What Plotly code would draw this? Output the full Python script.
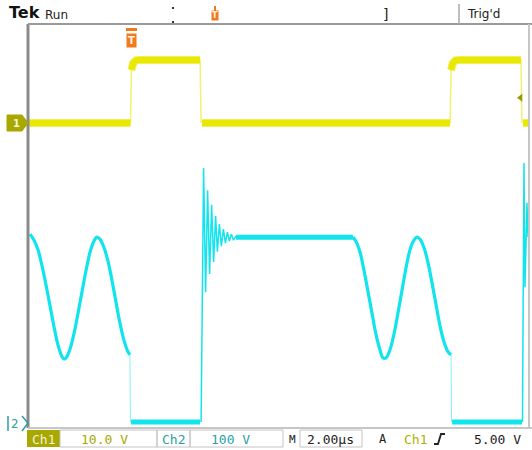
import plotly.graph_objects as go

# ---------------- data (read from the screen) ----------------
# time base 2.00 us/div, 10 div on screen
time_range_us = [0.0, 20.0]
ch1_scale_v = 10.0      # V/div
ch2_scale_v = 100.0     # V/div
trig_level_v = 5.00
trig_time_us = 4.09

# Ch1 (yellow) flat parts, None separates segments
ch1_level_t = [0.0, 4.09, None, 4.13, 4.19, 4.31, 4.47, 6.87, None,
               6.95, 16.85, None, 16.89, 16.95, 17.07, 17.23, 19.68, None,
               19.76, 20.0]
ch1_level_v = [0.0, 0.0, None, 10.5, 11.8, 12.4, 12.5, 12.5, None,
               0.0, 0.0, None, 10.5, 11.8, 12.4, 12.5, 12.5, None,
               0.0, 0.0]
# Ch1 switching edges
ch1_edge_t = [4.09, 4.13, None, 6.87, 6.91, None, 16.85, 16.89, None, 19.68, 19.72]
ch1_edge_v = [0.0, 10.5, None, 12.5, 0.0, None, 0.0, 10.5, None, 12.5, 0.0]

# Ch2 (cyan) resonant parts
ch2_sine_t = [0.08, 0.24, 0.40, 0.56, 0.72, 0.88, 1.04, 1.20, 1.36, 1.44, 1.52,
              1.68, 1.84, 2.00, 2.16, 2.32, 2.48, 2.63, 2.75, 2.87, 3.03, 3.19,
              3.35, 3.51, 3.67, 3.83, 3.99, 4.07, None,
              12.97, 13.09, 13.25, 13.41, 13.57, 13.73, 13.89, 14.05, 14.17,
              14.29, 14.45, 14.61, 14.77, 14.93, 15.09, 15.25, 15.41, 15.53,
              15.65, 15.81, 15.97, 16.13, 16.29, 16.45, 16.61, 16.77, 16.89]
ch2_sine_v = [374, 362, 343, 311, 273, 232, 190, 154, 131, 127, 129,
              147, 178, 218, 261, 303, 339, 360, 368, 364, 348, 321,
              283, 240, 198, 164, 141, 135, None,
              368, 360, 339, 303, 261, 218, 176, 145, 129,
              129, 145, 176, 218, 263, 307, 343, 362, 368,
              364, 347, 317, 277, 234, 192, 160, 141, 135]
# Ch2 flat parts
ch2_level_t = [4.11, 6.87, None, 8.30, 12.97, None, 16.93, 19.72]
ch2_level_v = [2, 2, None, 368, 368, None, 2, 2]
# Ch2 edges with ringing
ch2_ring_t = [6.91, 7.01, 7.09, 7.17, 7.25, 7.33, 7.41, 7.49, 7.56, 7.64, 7.72,
              7.80, 7.88, 7.96, 8.04, 8.12, 8.20, 8.30, None,
              19.74, 19.80, 19.84, 19.92, 19.96, 20.0]
ch2_ring_v = [2, 505, 259, 461, 295, 432, 319, 410, 339, 394, 350,
              384, 356, 378, 360, 374, 362, 370, None,
              2, 515, 269, 436, 368, 382]
# Ch2 falling edges (faint)
ch2_drop_t = [4.07, 4.09, None, 16.89, 16.91]
ch2_drop_v = [135, 2, None, 135, 2]

# ---------------- layout helpers ----------------
W, H = 532, 450
L, R, T, B = 28, 529, 24, 428


def px(x):
    return (x - L) / (R - L)


def py(y):
    return (B - y) / (B - T)


# 8 vertical divisions; ground markers at pixel rows 123 (Ch1) and 423 (Ch2)
ch1_bottom_div = (B - 123) / (B - T) * 8
ch2_bottom_div = (B - 423) / (B - T) * 8
ch1_range = [-ch1_bottom_div * ch1_scale_v, (8 - ch1_bottom_div) * ch1_scale_v]
ch2_range = [-ch2_bottom_div * ch2_scale_v, (8 - ch2_bottom_div) * ch2_scale_v]

YEL = "#e8e800"
YEL_F = "#efef60"
CYAN = "#12e4ee"
OLIVE = "#a8a800"
TEAL = "#2a9fa6"
ORANGE = "#f07a1c"

fig = go.Figure()
fig.add_trace(go.Scatter(x=ch1_level_t, y=ch1_level_v, mode="lines",
                         line=dict(color=YEL_F, width=8), hoverinfo="skip"))
fig.add_trace(go.Scatter(x=ch1_level_t, y=ch1_level_v, mode="lines",
                         line=dict(color=YEL, width=6), hoverinfo="skip"))
fig.add_trace(go.Scatter(x=ch1_edge_t, y=ch1_edge_v, mode="lines", opacity=0.55,
                         line=dict(color=YEL, width=1.5), hoverinfo="skip"))

fig.add_trace(go.Scatter(x=ch2_drop_t, y=ch2_drop_v, yaxis="y2", mode="lines", opacity=0.5,
                         line=dict(color=CYAN, width=1), hoverinfo="skip"))
fig.add_trace(go.Scatter(x=ch2_ring_t, y=ch2_ring_v, yaxis="y2", mode="lines",
                         line=dict(color=CYAN, width=1.5), hoverinfo="skip"))
fig.add_trace(go.Scatter(x=ch2_level_t, y=ch2_level_v, yaxis="y2", mode="lines",
                         line=dict(color=CYAN, width=5), hoverinfo="skip"))
fig.add_trace(go.Scatter(x=ch2_sine_t, y=ch2_sine_v, yaxis="y2", mode="lines",
                         line=dict(color=CYAN, width=3.2, shape="spline"), hoverinfo="skip"))

# trigger level marker at right edge
fig.add_trace(go.Scatter(x=[19.66], y=[trig_level_v], mode="markers",
                         marker=dict(symbol="triangle-left", size=7, color="#9a9a00"),
                         hoverinfo="skip"))

shapes = []
# frame
shapes.append(dict(type="line", xref="paper", yref="paper", x0=px(L), x1=px(L), y0=py(T), y1=py(B),
                   line=dict(color="#8a8a8a", width=3)))
shapes.append(dict(type="line", xref="paper", yref="paper", x0=px(L), x1=px(532), y0=py(T), y1=py(T),
                   line=dict(color="#9a9a9a", width=2)))
shapes.append(dict(type="line", xref="paper", yref="paper", x0=px(R), x1=px(R), y0=py(T), y1=py(B),
                   line=dict(color="#c6c6c6", width=2)))
shapes.append(dict(type="line", xref="paper", yref="paper", x0=px(L), x1=px(532), y0=py(B), y1=py(B),
                   line=dict(color="#c6c6c6", width=2)))
# top separators / bracket dots
shapes.append(dict(type="line", xref="paper", yref="paper", x0=px(459), x1=px(459), y0=py(4), y1=py(24),
                   line=dict(color="#aaaaaa", width=1.5)))
for yy in (8, 22):
    shapes.append(dict(type="rect", xref="paper", yref="paper", x0=px(172), x1=px(174),
                       y0=py(yy - 1), y1=py(yy + 1), fillcolor="#333", line=dict(width=0)))
# trigger position markers (orange)
shapes.append(dict(type="rect", xref="paper", yref="paper", x0=px(126), x1=px(137),
                   y0=py(28), y1=py(31), fillcolor=ORANGE, line=dict(width=0)))
shapes.append(dict(type="line", xref="paper", yref="paper", x0=px(215), x1=px(215),
                   y0=py(6), y1=py(11), line=dict(color=ORANGE, width=2)))
# Ch1 ground marker
shapes.append(dict(type="path", xref="paper", yref="paper",
                   path=f"M {px(7)},{py(115)} L {px(22)},{py(115)} L {px(28)},{py(123)} "
                        f"L {px(22)},{py(131)} L {px(7)},{py(131)} Z",
                   fillcolor=OLIVE, line=dict(color=OLIVE, width=1)))
# Ch2 ground marker outline
shapes.append(dict(type="path", xref="paper", yref="paper",
                   path=f"M {px(8)},{py(416)} L {px(8)},{py(431)} M {px(22)},{py(416)} "
                        f"L {px(28)},{py(423)} L {px(22)},{py(431)}",
                   line=dict(color=TEAL, width=1.5)))
# status bar
shapes.append(dict(type="rect", xref="paper", yref="paper", x0=px(27), x1=px(60), y0=py(447), y1=py(430),
                   fillcolor=OLIVE, line=dict(width=0)))
for x0, x1 in ((60, 157), (157, 190), (190, 283), (300, 362)):
    shapes.append(dict(type="rect", xref="paper", yref="paper", x0=px(x0), x1=px(x1),
                       y0=py(447), y1=py(430), line=dict(color="#c4c4c4", width=1)))
# trigger slope symbol
shapes.append(dict(type="path", xref="paper", yref="paper",
                   path=f"M {px(434)},{py(444)} L {px(438)},{py(444)} L {px(441)},{py(434)} L {px(445)},{py(434)}",
                   line=dict(color="#222", width=1.8)))

MONO = "DejaVu Sans Mono"
SANS = "DejaVu Sans"


def ann(x, y, text, color="#222", size=13, family=MONO, xanchor="center", **kw):
    return dict(xref="paper", yref="paper", x=px(x), y=py(y), text=text, showarrow=False,
                xanchor=xanchor, yanchor="middle", font=dict(family=family, size=size, color=color), **kw)


annotations = [
    ann(7, 13, "<b>Tek</b>", color="#111", size=16, family=SANS, xanchor="left"),
    ann(43, 15, "Run", color="#222", size=12, family=SANS, xanchor="left"),
    ann(385, 14, "]", color="#222", size=14, family=SANS),
    ann(465, 14, "Trig'd", color="#222", size=12, family=SANS, xanchor="left"),
    ann(131, 40, "<b>T</b>", color="#fff3e6", size=10, family=SANS, bgcolor=ORANGE, borderpad=1),
    ann(215, 16, "<b>T</b>", color="#fff3e6", size=8, family=SANS, bgcolor=ORANGE, borderpad=0),
    ann(16, 123, "<b>1</b>", color="#f4f4d0", size=10, family=SANS),
    ann(15, 424, "2", color=TEAL, size=12, family=SANS),
    ann(43, 439, "Ch1", color="#f2f2d6", size=13),
    ann(104, 439, "10.0 V", color=OLIVE, size=13),
    ann(173, 439, "Ch2", color=TEAL, size=13),
    ann(230, 439, "100 V", color=TEAL, size=13),
    ann(292, 439, "M", color="#222", size=11),
    ann(330, 439, "2.00µs", color="#222", size=13),
    ann(383, 439, "A", color="#222", size=12),
    ann(415, 439, "Ch1", color="#b0b000", size=13),
    ann(497, 439, "5.00 V", color="#222", size=13),
]

fig.update_layout(
    width=W, height=H,
    margin=dict(l=L, r=W - R, t=T, b=H - B, pad=0),
    paper_bgcolor="white", plot_bgcolor="white",
    showlegend=False,
    xaxis=dict(range=time_range_us, showgrid=False, zeroline=False, showticklabels=False,
               showline=False, ticks="", fixedrange=True),
    yaxis=dict(range=ch1_range, showgrid=False, zeroline=False, showticklabels=False,
               showline=False, ticks="", fixedrange=True),
    yaxis2=dict(range=ch2_range, overlaying="y", showgrid=False, zeroline=False,
                showticklabels=False, showline=False, ticks="", fixedrange=True),
    shapes=shapes,
    annotations=annotations,
)

fig.write_html("out.html", config={"displayModeBar": False},
               post_script="document.body.style.margin='0';document.body.style.overflow='hidden';")
